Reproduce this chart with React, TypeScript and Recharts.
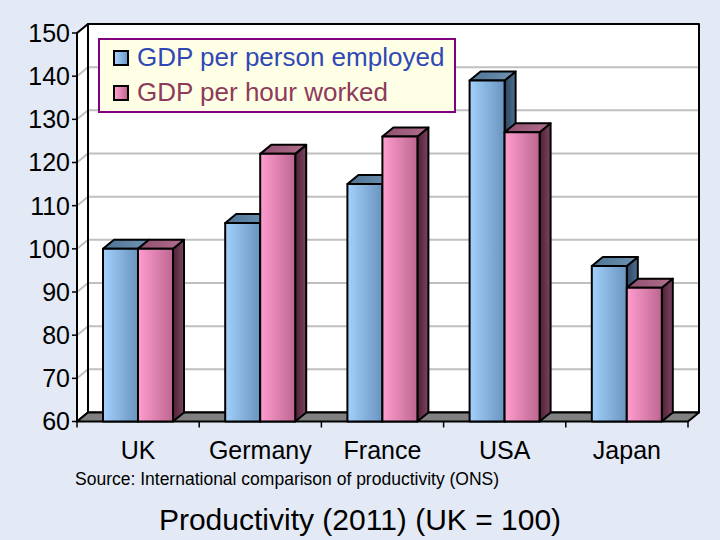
import React from "react";
import {
  BarChart,
  Bar,
  XAxis,
  YAxis,
  CartesianGrid,
  ReferenceArea,
  Legend,
} from "recharts";

const COUNTRIES = ["UK", "Germany", "France", "USA", "Japan"];
const PER_PERSON = [100, 106, 115, 139, 96];
const PER_HOUR = [100, 122, 126, 127, 91];
const Y_TICKS = [60, 70, 80, 90, 100, 110, 120, 130, 140, 150];
const SERIES_NAMES = ["GDP per person employed", "GDP per hour worked"];

const data = COUNTRIES.map((country, i) => ({
  country,
  perPerson: PER_PERSON[i],
  perHour: PER_HOUR[i],
}));

const FONT = "'Liberation Sans', Arial, sans-serif";
const BG = "#e3e9f5";
const DX = 11;
const DY = -9;

const make3DBar = (id: "blue" | "pink") => (props: any) => {
  const { x, y, width: w, height: h } = props;
  if (h == null || isNaN(h)) return null;
  return (
    <g stroke="#000" strokeWidth={2} strokeLinejoin="round">
      <polygon
        points={`${x + w},${y} ${x + w + DX},${y + DY} ${x + w + DX},${y + h + DY} ${x + w},${y + h}`}
        fill={`url(#${id}Side)`}
      />
      <polygon
        points={`${x},${y} ${x + DX},${y + DY} ${x + w + DX},${y + DY} ${x + w},${y}`}
        fill={`url(#${id}Top)`}
      />
      <rect x={x} y={y} width={w} height={h} fill={`url(#${id}Front)`} />
    </g>
  );
};

const Walls = (props: any) => {
  const { x, y, width: w, height: h } = props;
  return (
    <g>
      <rect x={x + DX} y={y + DY} width={w} height={h} fill="#fff" />
      <polygon
        points={`${x},${y} ${x + DX},${y + DY} ${x + DX},${y + h + DY} ${x},${y + h}`}
        fill="#fff"
      />
    </g>
  );
};

const FloorAndEdges = (props: any) => {
  const { x, y, width: w, height: h } = props;
  return (
    <g stroke="#000" strokeWidth={2} strokeLinejoin="round">
      <rect x={x + DX} y={y + DY} width={w} height={h} fill="none" />
      <polygon
        points={`${x},${y} ${x + DX},${y + DY} ${x + DX},${y + h + DY} ${x},${y + h}`}
        fill="none"
      />
      <polygon
        points={`${x},${y + h} ${x + w},${y + h} ${x + w + DX},${y + h + DY} ${x + DX},${y + h + DY}`}
        fill="#808080"
      />
    </g>
  );
};

const GridLine = (props: any) => {
  const { x1, y1, x2 } = props;
  return (
    <polyline
      key={props.key ?? `${y1}`}
      points={`${x1},${y1} ${x1 + DX},${y1 + DY} ${x2 + DX},${y1 + DY}`}
      fill="none"
      stroke="#c0c0c0"
      strokeWidth={2}
    />
  );
};

const XTick = (props: any) => {
  const { x, y, payload, index, visibleTicksCount, width } = props;
  const half =
    payload && typeof payload.offset === "number" && payload.offset > 0
      ? payload.offset
      : width / visibleTicksCount / 2;
  const top = y - 8;
  return (
    <g>
      <line x1={x - half} y1={top} x2={x - half} y2={top + 6} stroke="#000" strokeWidth={1.5} />
      {index === visibleTicksCount - 1 && (
        <line x1={x + half} y1={top} x2={x + half} y2={top + 6} stroke="#000" strokeWidth={1.5} />
      )}
      <text x={x} y={top + 37} textAnchor="middle" fontSize={25} fontFamily={FONT} fill="#000">
        {payload.value}
      </text>
    </g>
  );
};

const LegendBox = () => {
  const swatches = [
    "linear-gradient(to right, #a8d2fb, #6c9cc8)",
    "linear-gradient(to right, #ff9fd0, #c06890)",
  ];
  const colors = ["#2f48b5", "#8e3a5a"];
  return (
    <div
      style={{
        boxSizing: "border-box",
        width: 358,
        height: 75,
        border: "2px solid #800080",
        background: "#ffffe6",
        fontFamily: FONT,
      }}
    >
      {SERIES_NAMES.map((name, i) => (
        <div
          key={name}
          style={{ height: 35, display: "flex", alignItems: "center", paddingLeft: 13 }}
        >
          <div
            style={{
              boxSizing: "border-box",
              width: 16,
              height: 16,
              border: "2px solid #000",
              background: swatches[i],
            }}
          />
          <span style={{ marginLeft: 8, fontSize: 26, color: colors[i], whiteSpace: "nowrap" }}>
            {name}
          </span>
        </div>
      ))}
    </div>
  );
};

export default function App() {
  return (
    <div
      style={{
        position: "absolute",
        left: 0,
        top: 0,
        width: 720,
        height: 540,
        background: BG,
        overflow: "hidden",
      }}
    >
      <BarChart
        width={720}
        height={540}
        data={data}
        margin={{ top: 33, right: 32, bottom: 78.5, left: 0 }}
        barGap={0}
        barSize={35}
      >
        <defs>
          <linearGradient id="blueFront" x1="0" y1="0" x2="1" y2="0">
            <stop offset="0%" stopColor="#a3d0fc" />
            <stop offset="100%" stopColor="#6994bf" />
          </linearGradient>
          <linearGradient id="blueTop" x1="0" y1="0" x2="1" y2="0">
            <stop offset="0%" stopColor="#4f7394" />
            <stop offset="100%" stopColor="#6f93b3" />
          </linearGradient>
          <linearGradient id="blueSide" x1="0" y1="0" x2="1" y2="0">
            <stop offset="0%" stopColor="#2a4560" />
            <stop offset="100%" stopColor="#4f7092" />
          </linearGradient>
          <linearGradient id="pinkFront" x1="0" y1="0" x2="1" y2="0">
            <stop offset="0%" stopColor="#ff9dcf" />
            <stop offset="100%" stopColor="#bd6690" />
          </linearGradient>
          <linearGradient id="pinkTop" x1="0" y1="0" x2="1" y2="0">
            <stop offset="0%" stopColor="#8f4f6e" />
            <stop offset="100%" stopColor="#b26f8e" />
          </linearGradient>
          <linearGradient id="pinkSide" x1="0" y1="0" x2="1" y2="0">
            <stop offset="0%" stopColor="#4e2136" />
            <stop offset="100%" stopColor="#7c4460" />
          </linearGradient>
        </defs>
        <ReferenceArea y1={60} y2={150} shape={Walls} zIndex={-200} />
        <CartesianGrid vertical={false} horizontal={GridLine} />
        <ReferenceArea y1={60} y2={150} shape={FloorAndEdges} zIndex={-50} />
        <XAxis
          dataKey="country"
          axisLine={false}
          tickLine={false}
          tickSize={6}
          tickMargin={2}
          height={40}
          tick={XTick}
          interval={0}
        />
        <YAxis
          domain={[60, 150]}
          ticks={Y_TICKS}
          interval={0}
          width={77}
          axisLine={{ stroke: "#000", strokeWidth: 2 }}
          tickLine={{ stroke: "#000", strokeWidth: 1.5 }}
          tickSize={5}
          tick={{ fill: "#000", fontSize: 25, fontFamily: FONT }}
        />
        <Legend
          layout="vertical"
          align="center"
          verticalAlign="middle"
          wrapperStyle={{ left: 98, top: 38, width: 358, height: 75 }}
          content={LegendBox}
        />
        <Bar
          dataKey="perPerson"
          name={SERIES_NAMES[0]}
          fill="#88b6e4"
          shape={make3DBar("blue")}
          isAnimationActive={false}
        />
        <Bar
          dataKey="perHour"
          name={SERIES_NAMES[1]}
          fill="#e088b4"
          shape={make3DBar("pink")}
          isAnimationActive={false}
        />
      </BarChart>
      <svg
        width={720}
        height={540}
        style={{ position: "absolute", left: 0, top: 0, pointerEvents: "none" }}
      >
        <text x={75} y={485} fontSize={17.5} fontFamily={FONT} fill="#000">
          Source: International comparison of productivity (ONS)
        </text>
        <text x={360} y={530} textAnchor="middle" fontSize={30} fontFamily={FONT} fill="#000">
          Productivity (2011) (UK = 100)
        </text>
      </svg>
    </div>
  );
}
